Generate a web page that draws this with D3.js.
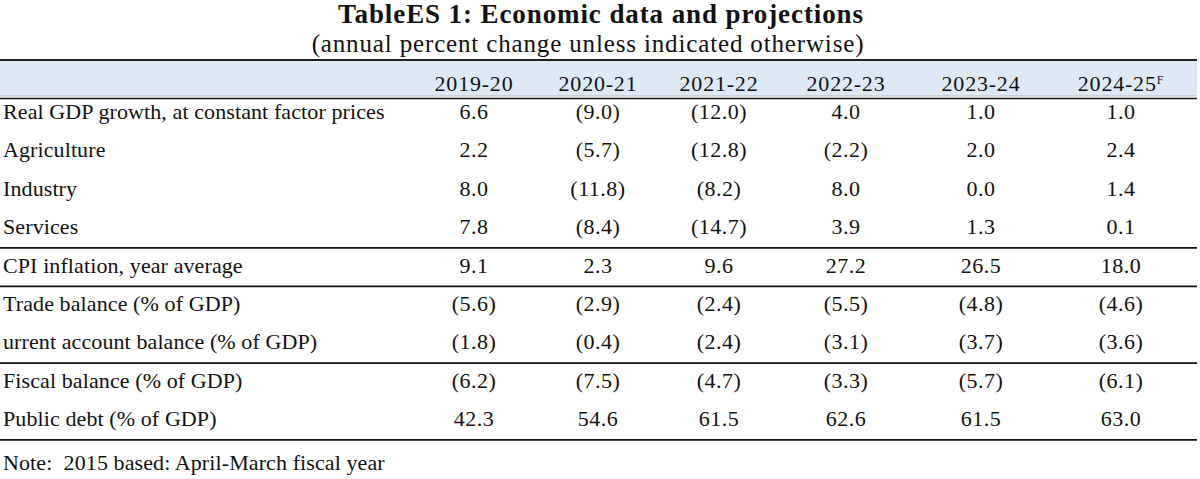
<!DOCTYPE html>
<html>
<head>
<meta charset="utf-8">
<script src="https://cdn.jsdelivr.net/npm/d3@7"></script>
<style>
  body { margin: 0; background: #fff; }
  text { font-family: "Liberation Serif", "Times New Roman", serif; fill: #111; }
</style>
</head>
<body>
<script>
// table content
var years = ["2019-20", "2020-21", "2021-22", "2022-23", "2023-24", "2024-25"];
var rowLabels = [
  "Real GDP growth, at constant factor prices",
  "Agriculture",
  "Industry",
  "Services",
  "CPI inflation, year average",
  "Trade balance (% of GDP)",
  "urrent account balance (% of GDP)",
  "Fiscal balance (% of GDP)",
  "Public debt (% of GDP)"
];
var realGdp   = [6.6, -9.0, -12.0, 4.0, 1.0, 1.0];
var agri      = [2.2, -5.7, -12.8, -2.2, 2.0, 2.4];
var industry  = [8.0, -11.8, -8.2, 8.0, 0.0, 1.4];
var services  = [7.8, -8.4, -14.7, 3.9, 1.3, 0.1];
var cpi       = [9.1, 2.3, 9.6, 27.2, 26.5, 18.0];
var trade     = [-5.6, -2.9, -2.4, -5.5, -4.8, -4.6];
var currentAc = [-1.8, -0.4, -2.4, -3.1, -3.7, -3.6];
var fiscal    = [-6.2, -7.5, -4.7, -3.3, -5.7, -6.1];
var debt      = [42.3, 54.6, 61.5, 62.6, 61.5, 63.0];
var rowValues = [realGdp, agri, industry, services, cpi, trade, currentAc, fiscal, debt];
// group separators drawn after these rows
var breakAfter = [3, 4, 6, 8];

// layout
var W = 1200, H = 479;
var colX = [474, 598, 719, 846, 981, 1121];

var svg = d3.select("body").append("svg").attr("width", W).attr("height", H);

var x = d3.scaleOrdinal().domain(years).range(colX);
var y = d3.scalePoint().domain(d3.range(rowLabels.length)).range([111.5, 418.7]);
var step = y.step();

var fmt = function(v){
  var s = d3.format(".1f")(Math.abs(v));
  return v < 0 ? "(" + s + ")" : s;
};

// title
svg.append("text").text("TableES 1: Economic data and projections")
      .attr("x", 601).attr("y", 23)
      .attr("text-anchor", "middle")
      .attr("font-weight", "bold")
      .attr("font-size", 27)
      .attr("letter-spacing", 0.9);
svg.append("text").text("(annual percent change unless indicated otherwise)")
      .attr("x", 588).attr("y", 52)
      .attr("text-anchor", "middle")
      .attr("font-size", 25)
      .attr("letter-spacing", 0.85);

// header band
svg.append("rect")
      .attr("x", 0).attr("y", 60)
      .attr("width", 1197).attr("height", 36)
      .attr("fill", "#ddeaf6");
svg.append("line")
      .attr("x1", 0).attr("x2", 1197).attr("y1", 60).attr("y2", 60)
      .attr("stroke", "#222").attr("stroke-width", 2);

var head = svg.selectAll("text.head")
      .data(years)
      .enter().append("text")
            .attr("class", "head")
            .attr("x", function(d){ return x(d); })
            .attr("y", 91)
            .attr("text-anchor", "middle")
            .attr("font-size", 22)
            .attr("letter-spacing", 0.8)
            .text(function(d){ return d; });
head.filter(function(d,i){ return i == years.length - 1; })
      .append("tspan")
            .attr("baseline-shift", "super")
            .attr("font-size", 12)
            .text("F");

// double line under header
svg.append("line")
      .attr("x1", 0).attr("x2", 1197).attr("y1", 96).attr("y2", 96)
      .attr("stroke", "#bbb").attr("stroke-width", 1);
svg.append("line")
      .attr("x1", 0).attr("x2", 1197).attr("y1", 98.5).attr("y2", 98.5)
      .attr("stroke", "#111").attr("stroke-width", 1.6);

// row labels
svg.selectAll("text.label")
      .data(rowLabels)
      .enter().append("text")
            .attr("class", "label")
            .attr("x", 3)
            .attr("y", function(d,i){ return y(i); })
            .attr("dominant-baseline", "central")
            .attr("font-size", 22)
            .attr("letter-spacing", 0.1)
            .text(function(d){ return d; });

// values
var rows = svg.selectAll("g.row")
      .data(rowValues)
      .enter().append("g")
            .attr("class", "row")
            .attr("transform", function(d,i){ return "translate(0," + y(i) + ")"; });
rows.selectAll("text")
      .data(function(d){ return d; })
      .enter().append("text")
            .attr("x", function(d,i){ return x(years[i]); })
            .attr("dominant-baseline", "central")
            .attr("text-anchor", "middle")
            .attr("font-size", 22)
            .attr("letter-spacing", 0.5)
            .text(function(d){ return fmt(d); });

// group separators
svg.selectAll("line.sep")
      .data(breakAfter)
      .enter().append("line")
            .attr("class", "sep")
            .attr("x1", 0).attr("x2", 1197)
            .attr("y1", function(d){ return y(d) + step / 2 + 2; })
            .attr("y2", function(d){ return y(d) + step / 2 + 2; })
            .attr("stroke", "#111").attr("stroke-width", 1.8);

// note
svg.append("text").text("Note:  2015 based: April-March fiscal year")
      .attr("x", 3).attr("y", 470)
      .attr("font-size", 22)
      .attr("letter-spacing", 0.1)
      .style("white-space", "pre");
</script>
</body>
</html>
